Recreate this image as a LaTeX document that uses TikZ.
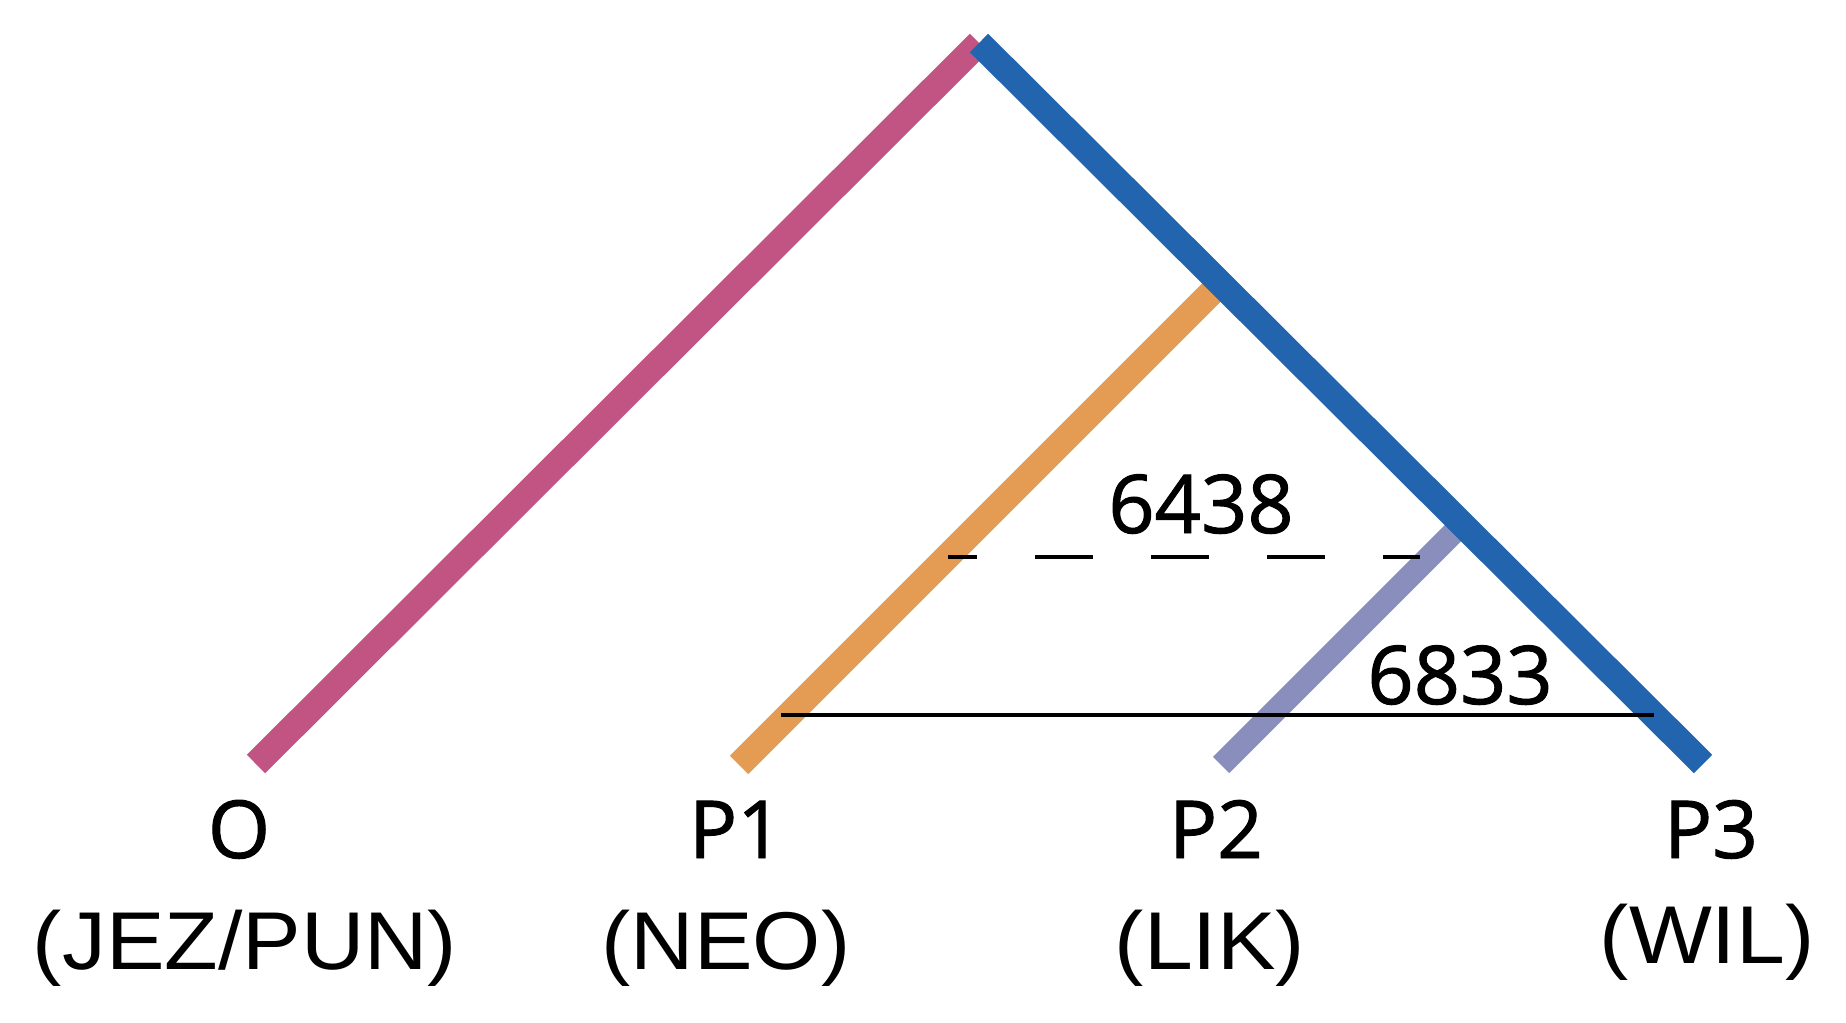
\documentclass[tikz,border=0pt]{standalone}
\usepackage{fontspec}
\setmainfont{Open Sans}
\newfontfamily\topfont[FakeBold=1.2]{Open Sans}
\newfontfamily\lowfont[FakeStretch=1.07]{Liberation Sans}
\definecolor{cpink}{HTML}{C25483}
\definecolor{cblue}{HTML}{2264AE}
\definecolor{corange}{HTML}{E49B54}
\definecolor{clav}{HTML}{8A8EBC}
\tikzset{
  branch/.style={line width=13pt, line cap=butt},
  toplabel/.style={anchor=base, inner sep=0pt, font=\topfont\fontsize{40}{45}\selectfont},
  lowlabel/.style={anchor=base, inner sep=0pt, font=\lowfont\fontsize{41}{46}\selectfont},
  numlabel/.style={anchor=base, inner sep=0pt, font=\topfont\fontsize{40.5}{45}\selectfont},
  dashline/.style={line width=1.7pt, dash pattern=on 29pt off 29pt, dash phase=14.5pt},
  solidline/.style={line width=2pt}
}
\begin{document}
\begin{tikzpicture}[x=0.5pt,y=-0.5pt]
\useasboundingbox (0,0) rectangle (1846,1022);
% tree coordinates
\coordinate (apex) at (979,43);
\coordinate (lO) at (256,764);
\coordinate (lP1) at (739,765);
\coordinate (lP2) at (1221,765);
\coordinate (lP3) at (1703,764);
\coordinate (j1) at (1221,283);
\coordinate (j2) at (1462,524);
% branches
\draw[branch, cpink] (lO) -- (apex);
\draw[branch, corange] (lP1) -- (j1);
\draw[branch, clav, line width=11.5pt] (lP2) -- (j2);
\draw[branch, cblue] (apex) -- (lP3);
% divergence lines
\coordinate (d1) at (948,557);
\coordinate (d2) at (1420,557);
\draw[dashline] (d1) -- (d2);
\coordinate (s1) at (781,715);
\coordinate (s2) at (1654,715);
\draw[solidline] (s1) -- (s2);
\node[numlabel] (n6438) at (1201,533) {6438};
\node[numlabel] (n6833) at (1460,704) {6833};
% leaf labels
\node[toplabel] (tO) at (239,858) {O};
\node[toplabel] (tP1) at (736,858) {P1};
\node[toplabel] (tP2) at (1216,858) {P2};
\node[toplabel] (tP3) at (1711,858) {P3};
\node[lowlabel] (bO) at (245,969) {(JEZ/PUN)};
\node[lowlabel] (bP1) at (726,969) {(NEO)};
\node[lowlabel] (bP2) at (1210,969) {(LIK)};
\node[lowlabel] (bP3) at (1707,963) {(WIL)};
\end{tikzpicture}
\end{document}
